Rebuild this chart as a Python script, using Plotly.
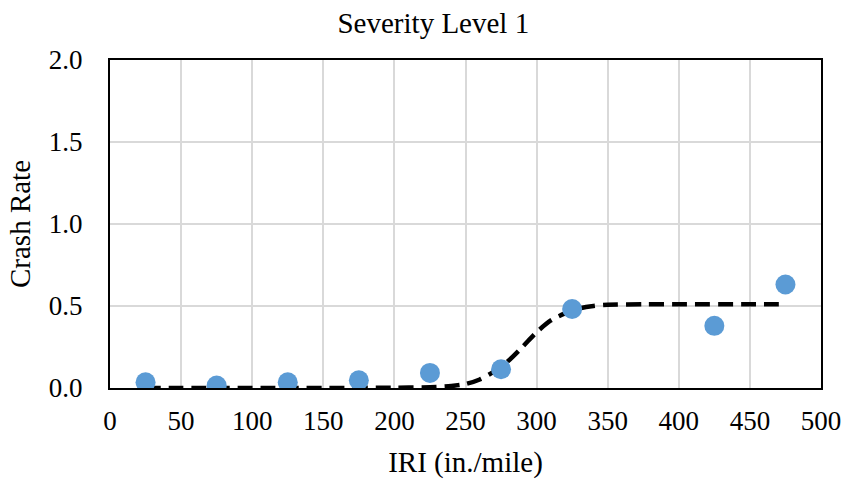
import plotly.graph_objects as go

# Observed data points
iri_points = [25, 75, 125, 175, 225, 275, 325, 425, 475]
crash_rate = [0.035, 0.015, 0.035, 0.047, 0.092, 0.114, 0.482, 0.379, 0.631]

# Fitted curve
fit_x = [25, 50, 100, 150, 200, 225, 240, 250, 260, 270, 280, 290, 300, 310, 320, 330, 340, 350, 375, 400, 450, 475]
fit_y = [0.0, 0.0, 0.0, 0.0, 0.002, 0.005, 0.012, 0.024, 0.052, 0.10, 0.165, 0.25, 0.34, 0.412, 0.455, 0.485, 0.500, 0.507, 0.510, 0.510, 0.510, 0.510]

x_ticks = [0, 50, 100, 150, 200, 250, 300, 350, 400, 450, 500]
y_ticks = [0.0, 0.5, 1.0, 1.5, 2.0]

FONT = "Liberation Serif"

fig = go.Figure()
fig.add_trace(go.Scatter(
    x=fit_x, y=fit_y, mode="lines",
    line=dict(color="black", width=4.5, dash="15px,8px", shape="spline", smoothing=0.8),
    showlegend=False, hoverinfo="skip"))
fig.add_trace(go.Scatter(
    x=iri_points, y=crash_rate, mode="markers",
    marker=dict(color="#5B9BD5", size=20),
    showlegend=False))

fig.update_layout(
    width=853, height=487,
    margin=dict(l=110, r=29, t=60, b=99),
    paper_bgcolor="white", plot_bgcolor="white",
    font=dict(family=FONT, size=27, color="black"),
    title=dict(text="Severity Level 1", x=0.508, xanchor="center", y=0.953, yanchor="middle",
               font=dict(family=FONT, size=29, color="black")),
)
fig.update_xaxes(
    range=[0, 500], tickvals=x_ticks, ticktext=[str(v) for v in x_ticks],
    showgrid=True, gridcolor="#d9d9d9", gridwidth=2,
    showline=True, linecolor="black", linewidth=2, mirror=True,
    zeroline=False, ticks="", ticklabelstandoff=8,
    title=dict(text="IRI (in./mile)", standoff=16, font=dict(family=FONT, size=29)),
    tickfont=dict(family=FONT, size=27),
)
fig.update_yaxes(
    range=[0, 2.0], tickvals=y_ticks, ticktext=[f"{v:.1f}" for v in y_ticks],
    showgrid=True, gridcolor="#d9d9d9", gridwidth=2,
    showline=True, linecolor="black", linewidth=2, mirror=True,
    zeroline=False, ticks="", ticklabelstandoff=20,
    title=dict(text="Crash Rate", standoff=10, font=dict(family=FONT, size=29)),
    tickfont=dict(family=FONT, size=27),
)

fig.write_html("out.html")
